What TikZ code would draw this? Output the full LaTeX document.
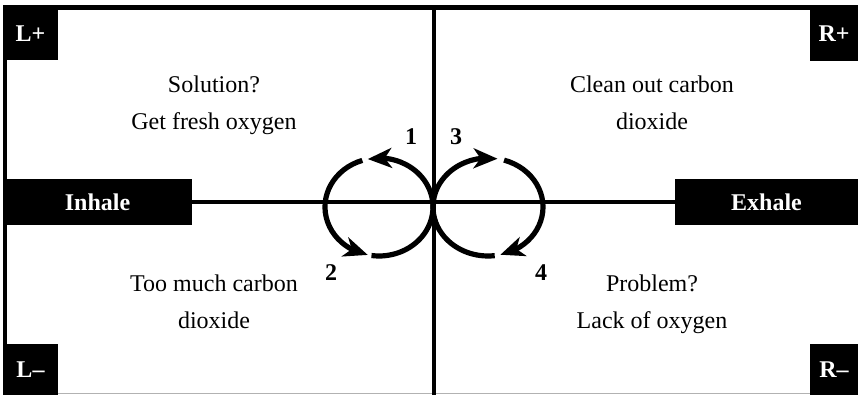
\documentclass[tikz,border=0pt]{standalone}
\usepackage{fontspec}
\setmainfont{Liberation Serif}
\usetikzlibrary{arrows.meta,bending}

\begin{document}
\begin{tikzpicture}[x=0.5pt,y=0.5pt,
    font=\fontsize{12pt}{14pt}\selectfont,
    corner/.style={fill=black,text=white,font=\fontsize{12pt}{14pt}\selectfont\bfseries,inner sep=0pt},
    num/.style={font=\fontsize{12pt}{14pt}\selectfont\bfseries},
    loopline/.style={line width=2.6pt},
    looptip/.style={-{Stealth[length=12pt,width=10pt,inset=3.5pt]}}]
  \useasboundingbox (0,0) rectangle (858,395);
  % frame
  \draw[line width=2.5pt] (3,387.5) -- (858,387.5);
  \draw[line width=2pt] (5,0) -- (5,388);
  \draw[gray!60,line width=0.5pt] (3,1.5) -- (858,1.5);
  % corner labels
  \node[corner,minimum width=27.5pt,minimum height=26.5pt] (lplus) at (30.5,361.5) {L+};
  \node[corner,minimum width=24pt,minimum height=27pt] (rplus) at (834,361) {R+};
  \node[corner,minimum width=27.5pt,minimum height=25.5pt] (lminus) at (30.5,25.5) {L--};
  \node[corner,minimum width=24pt,minimum height=25.5pt] (rminus) at (834,25.5) {R--};
  % axes
  \node[corner,minimum width=94.5pt,minimum height=23pt] (inhale) at (97.5,193) {Inhale};
  \node[corner,minimum width=91.5pt,minimum height=23pt] (exhale) at (766.5,193) {Exhale};
  \coordinate (top) at (434,388);
  \coordinate (bottom) at (434,0);
  \draw[line width=2pt] (inhale) -- (exhale);
  \draw[line width=2pt] (top) -- (bottom);
  % quadrant texts
  \node[anchor=base] (sol) at (214,302) {Solution?};
  \node[anchor=base] (fresh) at (214,265) {Get fresh oxygen};
  \node[anchor=base] (clean) at (652,302) {Clean out carbon};
  \node[anchor=base] (cleanb) at (652,265) {dioxide};
  \node[anchor=base] (much) at (214,103) {Too much carbon};
  \node[anchor=base] (muchb) at (214,66) {dioxide};
  \node[anchor=base] (prob) at (652,103) {Problem?};
  \node[anchor=base] (lack) at (652,66) {Lack of oxygen};
  % breathing loops
  \coordinate (lc) at (379,188);
  \coordinate (rc) at (488,188);
  \draw[loopline,looptip] (lc) ++(0:54 and 49) arc[start angle=0,end angle=102,x radius=54,y radius=49];
  \draw[loopline,looptip] (lc) ++(108:54 and 49) arc[start angle=108,end angle=258,x radius=54,y radius=49];
  \draw[loopline] (lc) ++(262:54 and 49) arc[start angle=262,end angle=360,x radius=54,y radius=49];
  \draw[loopline,looptip] (rc) ++(180:55 and 49) arc[start angle=180,end angle=80,x radius=55,y radius=49];
  \draw[loopline,looptip] (rc) ++(73:55 and 49) arc[start angle=73,end angle=-77,x radius=55,y radius=49];
  \draw[loopline] (rc) ++(-83:55 and 49) arc[start angle=-83,end angle=-180,x radius=55,y radius=49];
  \node[num] (n1) at (411,258) {1};
  \node[num] (n3) at (456,258) {3};
  \node[num] (n2) at (331,122) {2};
  \node[num] (n4) at (541,122) {4};
\end{tikzpicture}
\end{document}
